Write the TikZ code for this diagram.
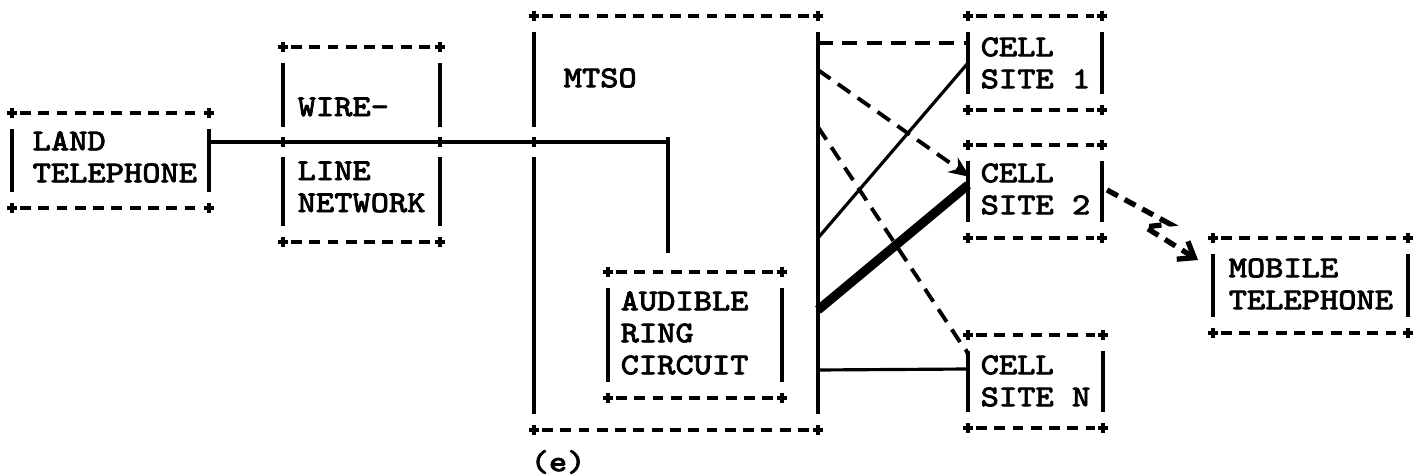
\documentclass[tikz,border=0pt]{standalone}
\usepackage{fontspec}
\setmonofont{Latin Modern Mono}[FakeStretch=1.15, FakeBold=2.4]
\usetikzlibrary{calc, arrows.meta}

% one typed box: + corners, dashed top and bottom, solid sides
\newcommand{\asciibox}[5]{%
  \node[frame, minimum width={(#4-#2)*0.01cm}, minimum height={(#5-#3)*0.01cm}] (#1) at (#2,#3) {};
  \draw[boxedge] ($(#1.north west)+(8,0)$) -- ($(#1.north east)+(-8,0)$);
  \draw[boxedge] ($(#1.south west)+(8,0)$) -- ($(#1.south east)+(-8,0)$);
  \draw[boxside] ($(#1.north west)+(0,16)$) -- ($(#1.south west)+(0,-16)$);
  \draw[boxside] ($(#1.north east)+(0,16)$) -- ($(#1.south east)+(0,-16)$);
  \foreach \c in {north west,north east,south west,south east}
    \draw[corner] ($(#1.\c)+(-5,0)$) -- ++(10,0) ($(#1.\c)+(0,-5)$) -- ++(0,10);
}
% gap in a side where a line passes, with its +
\newcommand{\crossmark}[1]{%
  \fill[white] ($(#1)+(-4,-15)$) rectangle ($(#1)+(4,15)$);
  \draw[corner] ($(#1)+(-5,0)$) -- ++(10,0) ($(#1)+(0,-5)$) -- ++(0,10);
}

\tikzset{
  frame/.style={inner sep=0pt, outer sep=0pt, anchor=north west},
  boxedge/.style={line width=1pt, dash pattern=on 3.1pt off 2.1pt},
  boxside/.style={line width=0.9pt},
  corner/.style={line width=1.1pt},
  boxtext/.style={inner sep=0pt, anchor=west, align=left,
    font=\fontsize{8.6pt}{9.1pt}\selectfont\ttfamily},
  trunk/.style={line width=1.2pt},
  wireline/.style={line width=0.9pt},
  thickline/.style={line width=2.6pt},
  dashline/.style={line width=1.1pt, dash pattern=on 4.3pt off 2.6pt},
  radio/.style={line width=1.5pt, dash pattern=on 3.5pt off 2.2pt}
}

\begin{document}
\begin{tikzpicture}[x=0.01cm, y=-0.01cm, line cap=butt]
  \path[use as bounding box, fill=white] (0,0) rectangle (1427,476);

  % boxes
  \asciibox{land}{12}{113}{209}{208}
  \asciibox{wire}{283}{47}{440}{242}
  \asciibox{mtso}{534}{16}{818}{430}
  \asciibox{ring}{608}{272}{782}{398}
  \asciibox{site1}{968}{16}{1102}{110}
  \asciibox{site2}{968}{145}{1102}{238}
  \asciibox{siteN}{968}{335}{1103}{428}
  \asciibox{mobile}{1213}{238}{1408}{333}

  % texts
  \node[boxtext] (landtxt) at (32,157) {LAND\\TELEPHONE};
  \node[boxtext] (wiretop) at (297,107) {WIRE-};
  \node[boxtext] (wirebot) at (297,187) {LINE\\NETWORK};
  \node[boxtext] (mtsotxt) at (563,78) {MTSO};
  \node[boxtext] (ringtxt) at (620,333) {AUDIBLE\\RING\\CIRCUIT};
  \node[boxtext] (site1txt) at (980,63) {CELL\\SITE 1};
  \node[boxtext] (site2txt) at (980,189) {CELL\\SITE 2};
  \node[boxtext] (siteNtxt) at (980,381) {CELL\\SITE N};
  \node[boxtext] (mobiletxt) at (1228,284) {MOBILE\\TELEPHONE};
  \node[boxtext] (figtag) at (530,462) {(e)};

  % land line through the network into the MTSO
  \coordinate (landout) at ($(land.north east)+(0,29)$);
  \coordinate (ringin) at ($(ring.north west)+(60,-19)$);
  \crossmark{wire.west |- landout}
  \crossmark{wire.east |- landout}
  \crossmark{mtso.west |- landout}
  \draw[trunk] (landout) -| (ringin);
  \draw[corner] ($(ringin |- landout)+(0,-5)$) -- ++(0,10);

  % switch side of the MTSO
  \coordinate (m1) at ($(mtso.north east)+(0,27)$);
  \coordinate (m2) at ($(mtso.north east)+(0,54)$);
  \coordinate (m3) at ($(mtso.north east)+(0,111)$);
  \coordinate (m4) at ($(mtso.north east)+(0,222)$);
  \coordinate (m5) at ($(mtso.north east)+(0,294)$);
  \coordinate (m6) at ($(mtso.north east)+(0,354)$);
  \coordinate (s1a) at ($(site1.north west)+(0,27)$);
  \coordinate (s1b) at ($(site1.north west)+(0,47)$);
  \coordinate (s2a) at ($(site2.north west)+(2,32)$);
  \coordinate (s2b) at ($(site2.north west)+(0,40)$);
  \coordinate (sNa) at ($(siteN.north west)+(0,21)$);
  \coordinate (sNb) at ($(siteN.north west)+(0,34)$);

  \draw[dashline] (m1) -- (s1a);
  \draw[dashline, -{Stealth[length=6pt, width=5pt]}] (m2) -- (s2a);
  \draw[dashline] (m3) -- ($(sNa)+(-6,-11)$) to[out=-57, in=90] (sNa);
  \draw[wireline] (m4) -- (s1b);
  \draw[thickline] (m5) -- (s2b);
  \draw[wireline] (m6) -- (sNb);

  % radio link to the mobile
  \coordinate (s2c) at ($(site2.north east)+(5,45)$);
  \coordinate (mobin) at ($(mobile.north west)+(-15,22)$);
  \draw[radio, -{Straight Barb[length=4pt, width=6pt]}]
    (s2c) -- ++(63,34) -- ++(-25,3) -- (mobin);
\end{tikzpicture}
\end{document}
